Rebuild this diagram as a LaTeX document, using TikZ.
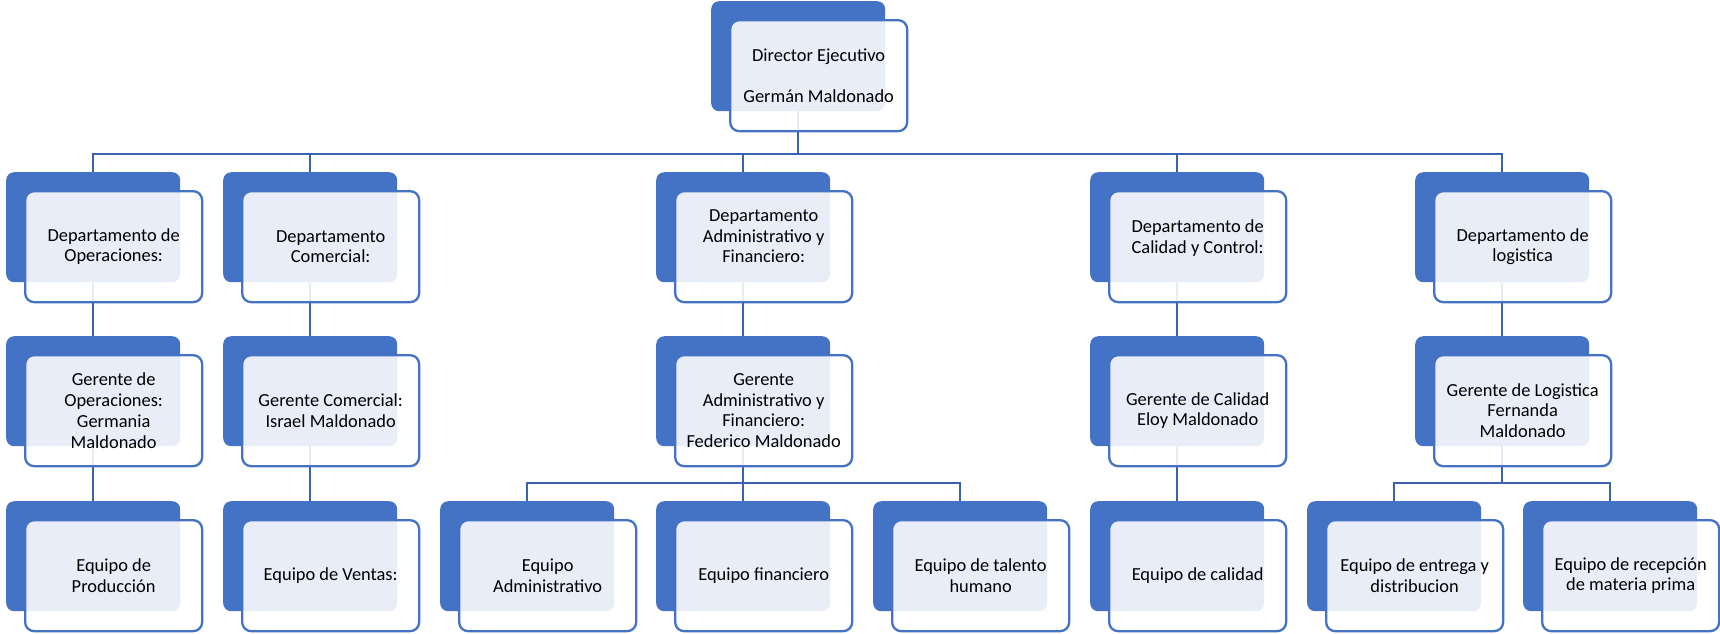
\documentclass[tikz,border=0pt]{standalone}
\usepackage{fontspec}
\setmainfont{Carlito}
\usetikzlibrary{backgrounds}
\definecolor{accent}{HTML}{4472C4}
\definecolor{linkc}{HTML}{3A62AD}
\tikzset{
  bluebox/.style={rectangle, rounded corners=8pt, fill=accent, draw=none,
    minimum width=174pt, minimum height=110pt, inner sep=0pt},
  lightbox/.style={rectangle, rounded corners=9pt, fill=white, fill opacity=0.88,
    text opacity=1, draw=accent, draw opacity=1, line width=2.3pt,
    minimum width=177pt, minimum height=111pt, inner sep=0pt, align=center,
    font=\fontsize{18.4pt}{20.7pt}\selectfont, text=black},
  link/.style={draw=linkc, line width=2.2pt},
}
\newcommand\orgbox[4]{%
  \node[bluebox, anchor=north west] (#1) at (#2,#3) {};
  \node[lightbox, anchor=north west] (#1t) at (#2+18,#3+18) {#4};
}
\begin{document}
\begin{tikzpicture}[x=1pt,y=-1pt]
\useasboundingbox (0,0) rectangle (1720,633);
% top
\orgbox{top}{711}{1}{Director Ejecutivo\\[20.7pt]Germán Maldonado}
% departments
\orgbox{d1}{6}{172}{Departamento de\\Operaciones:}
\orgbox{d2}{223}{172}{Departamento\\Comercial:}
\orgbox{d3}{656}{172}{Departamento\\Administrativo y\\Financiero:\\\mbox{}}
\orgbox{d4}{1090}{172}{Departamento de\\Calidad y Control:\\\mbox{}}
\orgbox{d5}{1415}{172}{Departamento de\\logistica}
% managers
\orgbox{g1}{6}{336}{Gerente de\\Operaciones:\\Germania\\Maldonado}
\orgbox{g2}{223}{336}{Gerente Comercial:\\Israel Maldonado}
\orgbox{g3}{656}{336}{Gerente\\Administrativo y\\Financiero:\\Federico Maldonado}
\orgbox{g4}{1090}{336}{Gerente de Calidad\\Eloy Maldonado}
\orgbox{g5}{1415}{336}{Gerente de Logistica\\Fernanda\\Maldonado}
% teams
\orgbox{e1}{6}{501}{Equipo de\\Producción}
\orgbox{e2}{223}{501}{Equipo de Ventas:}
\orgbox{e3a}{440}{501}{Equipo\\Administrativo}
\orgbox{e3b}{656}{501}{Equipo financiero}
\orgbox{e3c}{873}{501}{Equipo de talento\\humano}
\orgbox{e4}{1090}{501}{Equipo de calidad}
\orgbox{e5a}{1307}{501}{Equipo de entrega y\\distribucion}
\orgbox{e5b}{1523}{501}{Equipo de recepción\\de materia prima}
\begin{scope}[on background layer]
  \coordinate (barA) at (0,154);
  \coordinate (barB) at (0,483);
  \draw[link] (top.south) -- (top.south |- barA) -| (d1.north);
  \draw[link] (top.south |- barA) -| (d2.north);
  \draw[link] (top.south |- barA) -| (d3.north);
  \draw[link] (top.south |- barA) -| (d4.north);
  \draw[link] (top.south |- barA) -| (d5.north);
  \draw[link] (d1.south) -- (g1.north);
  \draw[link] (d2.south) -- (g2.north);
  \draw[link] (d3.south) -- (g3.north);
  \draw[link] (d4.south) -- (g4.north);
  \draw[link] (d5.south) -- (g5.north);
  \draw[link] (g1.south) -- (e1.north);
  \draw[link] (g2.south) -- (e2.north);
  \draw[link] (g3.south) -- (g3.south |- barB) -| (e3a.north);
  \draw[link] (g3.south |- barB) -| (e3c.north);
  \draw[link] (g3.south) -- (e3b.north);
  \draw[link] (g4.south) -- (e4.north);
  \draw[link] (g5.south) -- (g5.south |- barB) -| (e5a.north);
  \draw[link] (g5.south |- barB) -| (e5b.north);
\end{scope}
\end{tikzpicture}
\end{document}
